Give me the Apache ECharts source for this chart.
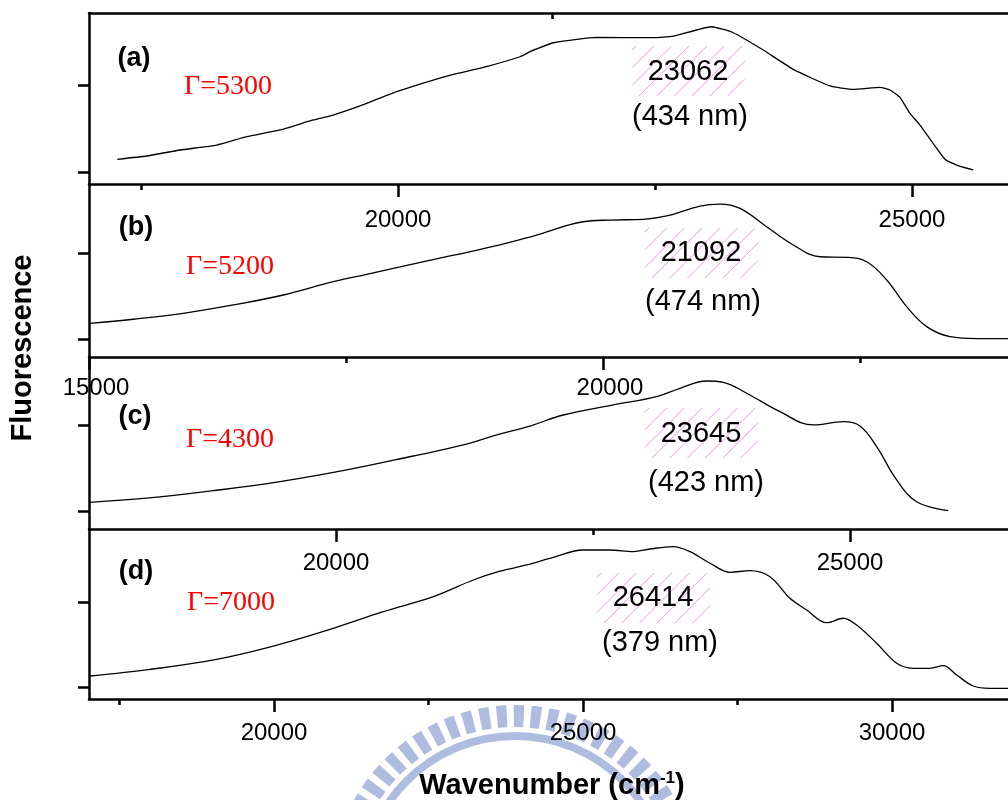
<!DOCTYPE html>
<html><head><meta charset="utf-8">
<script src="https://cdn.jsdelivr.net/npm/echarts@6/dist/echarts.min.js"></script>
<style>html,body{margin:0;padding:0;background:#fff}#c{width:1008px;height:800px}</style>
</head><body><div id="c"></div>
<script>
// ---- data (wavenumber cm^-1, fluorescence arb. units) ----
const waveA = [17269,17555,17879,18236,18528,18852,19176,19370,19630,19987,20474,20878,21187,21284,21511,21933,22483,22678,23051,23262,23553,23845,24202,24429,24689,24786,24883,24980,25078,25321,25435,25596];
const fluorA = [0.146,0.184,0.253,0.310,0.406,0.483,0.598,0.655,0.759,0.923,1.103,1.218,1.325,1.383,1.486,1.548,1.544,1.563,1.670,1.601,1.402,1.180,0.989,0.950,0.973,0.943,0.858,0.674,0.540,0.146,0.080,0.023];
const waveB = [15010,15431,15917,16404,16890,17376,17701,18025,18512,18998,19322,19808,20068,20392,20620,20944,21138,21333,21592,21851,22111,22371,22565,22760,22954,23149,23376,23635,23940];
const fluorB = [0.186,0.233,0.302,0.399,0.515,0.670,0.756,0.841,0.969,1.097,1.201,1.367,1.387,1.395,1.434,1.550,1.573,1.523,1.309,1.097,0.960,0.953,0.902,0.690,0.379,0.147,0.030,0.007,0.007];
const waveC = [17607,18158,18806,19455,20104,20752,21238,21563,21887,22211,22697,23119,23346,23606,23767,23995,24319,24643,24935,25097,25259,25454,25649,25956];
const fluorC = [0.108,0.155,0.242,0.346,0.481,0.642,0.769,0.885,0.988,1.115,1.231,1.326,1.423,1.507,1.492,1.366,1.153,1.000,1.038,0.988,0.750,0.366,0.115,0.012];
const waveD = [17022,17993,19072,19988,20959,21768,22577,23224,23656,24089,24519,25004,25436,25814,26084,26461,26731,27055,27378,27702,28025,28349,28619,28943,29212,29428,29752,30076,30344,30614,30830,31046,31315,31585,31877];
const fluorD = [0.137,0.215,0.333,0.488,0.696,0.890,1.066,1.261,1.364,1.437,1.527,1.612,1.612,1.593,1.624,1.651,1.593,1.457,1.351,1.370,1.300,1.047,0.910,0.761,0.813,0.734,0.520,0.286,0.227,0.227,0.258,0.149,0.020,-0.007,-0.007];

const panelNames = ['(a)','(b)','(c)','(d)'];
const gammaLabels = ['\u0393=5300','\u0393=5200','\u0393=4300','\u0393=7000'];
const peakWavenumbers = ['23062','21092','23645','26414'];
const peakWavelengths = ['(434 nm)','(474 nm)','(423 nm)','(379 nm)'];

const majorTicks = [[20000,25000],[15000,20000],[20000,25000],[20000,25000,30000]];
const minorTicks = [[17500,22500],[17500,22500],[22500],[17500,22500,27500]];
const xRanges = [[16994,26148],[15000,24154],[17597,26751],[17006,32233]];
const yRanges = [[-0.138,1.828],[-0.206,1.806],[-0.2,1.784],[-0.132,1.858]];
const yTickValues = [0,1];

// ---- layout ----
const LEFT = 89, WIDTH = 941;
const gridTops = [13,184,357,529];
const gridHeights = [171,173,172,170];
const labelMargins = [24,19,22,22];
const labelPads = [[0,0,0,0],[0,0,0,14],[0,0,0,0],[0,0,0,0]];

const AX = {color:'#000', width:2.5};
const grids = [], xAxes = [], yAxes = [], series = [];
const waves = [waveA,waveB,waveC,waveD], fluors = [fluorA,fluorB,fluorC,fluorD];
const smooths = [0.15,0.4,0.4,0.35];

for (let i=0;i<4;i++){
  grids.push({left:LEFT, top:gridTops[i], width:WIDTH, height:gridHeights[i], containLabel:false, outerBoundsMode:'none'});
  xAxes.push({type:'value', gridIndex:i, position:'bottom', min:xRanges[i][0], max:xRanges[i][1],
    axisLine:{show:true, onZero:false, lineStyle:AX},
    axisTick:{show:true, inside:false, length:13, customValues:majorTicks[i], lineStyle:{color:'#000',width:2.5}},
    axisLabel:{show:true, customValues:majorTicks[i], margin:labelMargins[i], fontSize:24, color:'#000',
      fontFamily:'Liberation Sans', padding:labelPads[i], formatter:v=>String(Math.round(v))},
    splitLine:{show:false}});
  xAxes.push({type:'value', gridIndex:i, position:'bottom', min:xRanges[i][0], max:xRanges[i][1],
    axisLine:{show:false, onZero:false},
    axisTick:{show:true, inside:false, length:6, customValues:minorTicks[i], lineStyle:{color:'#000',width:2.5}},
    axisLabel:{show:false}, splitLine:{show:false}});
  yAxes.push({type:'value', gridIndex:i, min:yRanges[i][0], max:yRanges[i][1],
    axisLine:{show:true, onZero:false, lineStyle:AX},
    axisTick:{show:true, inside:false, length:11, customValues:yTickValues, lineStyle:{color:'#000',width:2.5}},
    axisLabel:{show:false}, splitLine:{show:false}});
}
// top frame of panel (a)
xAxes.push({type:'value', gridIndex:0, position:'top', min:xRanges[0][0], max:xRanges[0][1],
  axisLine:{show:true, onZero:false, lineStyle:AX},
  axisTick:{show:true, inside:true, length:6, customValues:[21500], lineStyle:{color:'#000',width:2.5}},
  axisLabel:{show:false}, splitLine:{show:false}});

for (let i=0;i<4;i++){
  series.push({type:'line', xAxisIndex:i*2, yAxisIndex:i, showSymbol:false, smooth:smooths[i],
    lineStyle:{color:'#000', width:1.3}, data: waves[i].map((w,k)=>[w, fluors[i][k]]), z:5});
}

const boxPos = [[632,46],[645,228],[645,408],[597,573]];
const numPos = [[688,72],[701,253],[701,434],[653,598]];
const nmPos = [[690,117],[703,302],[706,483],[660,643]];
const panelLabelPos = [[134,59],[136,228],[135,417],[136,572]];
const gammaPos = [[228,87],[230,267],[230,440],[231,603]];

const graphics = [];
// watermark (background logo)
const wm = '#aebddf';
const WCX = 515, WCY = 889;
for (let a = -180; a <= 0; a += 5.6){
  graphics.push({type:'sector', z:0, silent:true, shape:{cx:WCX, cy:WCY, r0:162, r:184,
    startAngle:a*Math.PI/180, endAngle:(a+3.3)*Math.PI/180}, style:{fill:wm}});
}
graphics.push({type:'sector', z:0, silent:true, shape:{cx:WCX, cy:WCY, r0:149, r:157, startAngle:-Math.PI, endAngle:0}, style:{fill:wm}});

// hatched annotation boxes
const BW = 113, BH = 50, HS = 17.7;
function hatch(x0, y0){
  const out = [];
  for (let c = x0 - BH + 4; c < x0 + BW; c += HS){
    const t0 = Math.max(0, x0 - c), t1 = Math.min(BH, x0 + BW - c);
    if (t1 - t0 < 1) continue;
    out.push({type:'line', z:3, silent:true,
      shape:{x1:c+t0, y1:y0+BH-t0, x2:c+t1, y2:y0+BH-t1},
      style:{stroke:'#f39af3', lineWidth:1}});
  }
  return out;
}

for (let i=0;i<4;i++){
  graphics.push(...hatch(boxPos[i][0], boxPos[i][1]));
  graphics.push({type:'text', z:10, x:numPos[i][0], y:numPos[i][1], style:{text:peakWavenumbers[i], fontSize:29,
    fontFamily:'Liberation Sans', fill:'#000', align:'center', verticalAlign:'middle'}});
  graphics.push({type:'text', z:10, x:nmPos[i][0], y:nmPos[i][1], style:{text:peakWavelengths[i], fontSize:29,
    fontFamily:'Liberation Sans', fill:'#000', align:'center', verticalAlign:'middle'}});
  graphics.push({type:'text', z:10, x:panelLabelPos[i][0], y:panelLabelPos[i][1], style:{text:panelNames[i], fontSize:27,
    fontWeight:'bold', fontFamily:'Liberation Sans', fill:'#000', align:'center', verticalAlign:'middle'}});
  graphics.push({type:'text', z:10, x:gammaPos[i][0], y:gammaPos[i][1], style:{text:gammaLabels[i], fontSize:28,
    fontFamily:'Liberation Serif', fill:'#ff0000', align:'center', verticalAlign:'middle'}});
}
graphics.push({type:'text', z:10, x:23, y:348, rotation:Math.PI/2, style:{text:'Fluorescence', fontSize:29,
  fontWeight:'bold', fontFamily:'Liberation Sans', fill:'#000', align:'center', verticalAlign:'middle'}});
graphics.push({type:'text', z:10, x:552, y:786, style:{text:'{m|Wavenumber (cm}{s|-1}{m|)}', align:'center', verticalAlign:'middle',
  rich:{m:{fontSize:29, fontWeight:'bold', fontFamily:'Liberation Sans', fill:'#000', lineHeight:32},
        s:{fontSize:17, fontWeight:'bold', fontFamily:'Liberation Sans', fill:'#000', verticalAlign:'top', lineHeight:32, padding:[0,0,12,0]}}}});

const chart = echarts.init(document.getElementById('c'), null, {renderer:'canvas'});
chart.setOption({
  animation:false, backgroundColor:'#fff',
  grid:grids, xAxis:xAxes, yAxis:yAxes, series:series, graphic:graphics
});
</script></body></html>
